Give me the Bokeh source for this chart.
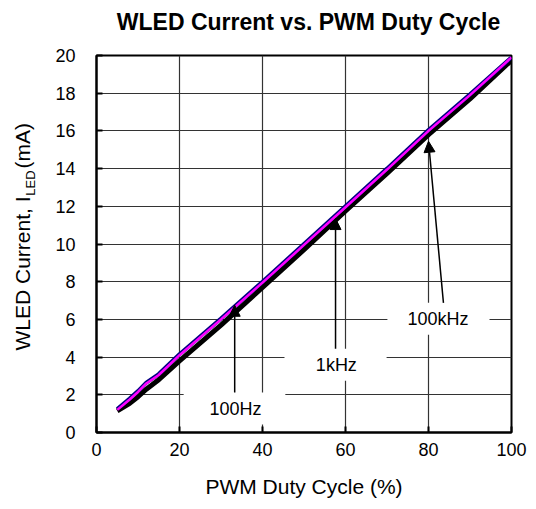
import math
from bokeh.plotting import figure
from bokeh.layouts import row, column
from bokeh.models import FixedTicker, Range1d, Label, Arrow, NormalHead, BoxAnnotation
from bokeh.core.properties import value
from bokeh.embed import file_html
from bokeh.resources import INLINE

# ---- data ----
duty = [5, 8, 10, 12, 15, 20, 30, 40, 50, 60, 70, 80, 90, 100]
i_100hz = [1.15, 1.55, 1.9, 2.3, 2.8, 3.8, 5.7, 7.7, 9.7, 11.75, 13.75, 15.8, 17.7, 19.75]
i_1khz = [1.25, 1.8, 2.2, 2.65, 3.1, 4.15, 6.05, 8.0, 10.0, 12.0, 14.0, 16.05, 17.95, 19.9]
i_100khz = [1.2, 1.75, 2.15, 2.6, 3.05, 4.1, 6.0, 7.95, 9.95, 11.95, 13.95, 16.0, 17.9, 19.9]
x_ticks = [0, 20, 40, 60, 80, 100]
y_ticks = [0, 2, 4, 6, 8, 10, 12, 14, 16, 18, 20]
ylabel_parts = ["WLED Current, I", "LED", "(mA)"]
title_text = "WLED Current vs. PWM Duty Cycle"

FONT = "Liberation Sans"


def blank(width, height, xr, yr):
    f = figure(width=width, height=height, output_backend="svg", toolbar_location=None,
               x_range=Range1d(0, xr), y_range=Range1d(0, yr),
               x_axis_type=None, y_axis_type=None,
               min_border_left=0, min_border_right=0, min_border_top=0, min_border_bottom=0)
    f.outline_line_color = None
    f.xgrid.visible = False
    f.ygrid.visible = False
    return f


# ---- title strip ----
top = blank(530, 40, 530, 40)
top.text(x=[308], y=[19], text=[title_text], text_font=value(FONT),
         text_font_size=value("23px"), text_font_style="bold", text_color="black",
         text_align="center", text_baseline="middle")

# ---- narrow panel holding the y-axis title (with subscript) ----
lab = blank(40, 460, 40, 460)
J = 288  # junction between "I" and subscript (panel pixels from bottom)
lab.text(x=[22], y=[J], text=[ylabel_parts[0]], angle=math.pi / 2,
         text_font=value(FONT), text_font_size=value("21px"), text_color="black",
         text_align="right", text_baseline="middle")
lab.text(x=[30], y=[J + 1], text=[ylabel_parts[1]], angle=math.pi / 2,
         text_font=value(FONT), text_font_size=value("13px"), text_color="black",
         text_align="left", text_baseline="middle")
lab.text(x=[22], y=[J + 34], text=[ylabel_parts[2]], angle=math.pi / 2,
         text_font=value(FONT), text_font_size=value("21px"), text_color="black",
         text_align="left", text_baseline="middle")

# ---- main chart ----
p = figure(width=490, height=460, output_backend="svg", toolbar_location=None,
           x_range=Range1d(0, 100), y_range=Range1d(0, 20),
           min_border_left=56, min_border_right=19, min_border_top=15, min_border_bottom=67)

p.outline_line_color = "black"
p.outline_line_width = 2
p.background_fill_color = "white"
p.border_fill_color = "white"

for ax in (p.xaxis[0], p.yaxis[0]):
    ax.axis_line_color = "black"
    ax.axis_line_width = 2
    ax.major_tick_in = 6
    ax.major_tick_out = 0
    ax.minor_tick_in = 0
    ax.minor_tick_out = 0
    ax.major_tick_line_color = "black"
    ax.major_tick_line_width = 2
    ax.major_label_text_font = FONT
    ax.major_label_text_font_size = "18px"
    ax.major_label_text_color = "black"

p.xaxis.ticker = FixedTicker(ticks=x_ticks)
p.yaxis.ticker = FixedTicker(ticks=y_ticks)
p.xaxis.major_label_standoff = 10
p.yaxis.major_label_standoff = 21
p.xaxis.axis_label = "PWM Duty Cycle (%)"
p.xaxis.axis_label_text_font = FONT
p.xaxis.axis_label_text_font_size = "21px"
p.xaxis.axis_label_text_font_style = "normal"
p.xaxis.axis_label_text_color = "black"
p.xaxis.axis_label_standoff = 16

p.xgrid.ticker = FixedTicker(ticks=x_ticks)
p.ygrid.ticker = FixedTicker(ticks=y_ticks)
for g in (p.xgrid[0], p.ygrid[0]):
    g.grid_line_color = "#333333"
    g.grid_line_width = 1.2

# series
p.line(duty, i_100hz, line_color="black", line_width=5)
p.line(duty, i_1khz, line_color="#000080", line_width=4)
p.line(duty, i_100khz, line_color="#FF00FF", line_width=2.5)

# annotation boxes (white, hide grid)
for l, r, b, t in [(21.0, 45.5, 0.42, 2.12), (45.3, 69.9, 2.75, 4.44), (70.1, 94.7, 5.19, 6.88)]:
    p.add_layout(BoxAnnotation(left=l, right=r, bottom=b, top=t, fill_color="white",
                               fill_alpha=1, line_alpha=0))

# arrows
for xs, ys, xe, ye in [(33.3, 2.12, 33.3, 6.75), (57.6, 4.44, 57.6, 11.35), (83.6, 6.88, 80.0, 15.45)]:
    p.add_layout(Arrow(end=NormalHead(size=11, fill_color="black", line_color="black"),
                       x_start=xs, y_start=ys, x_end=xe, y_end=ye,
                       line_color="black", line_width=1.5))

for x, y, t in [(33.5, 1.27, "100Hz"), (57.8, 3.6, "1kHz"), (82.3, 6.03, "100kHz")]:
    p.add_layout(Label(x=x, y=y, text=t, text_align="center", text_baseline="middle",
                       text_font=FONT, text_font_size="18px", text_color="black"))

layout = column(top, row(lab, p))
open("out.html", "w").write(file_html(layout, INLINE))
